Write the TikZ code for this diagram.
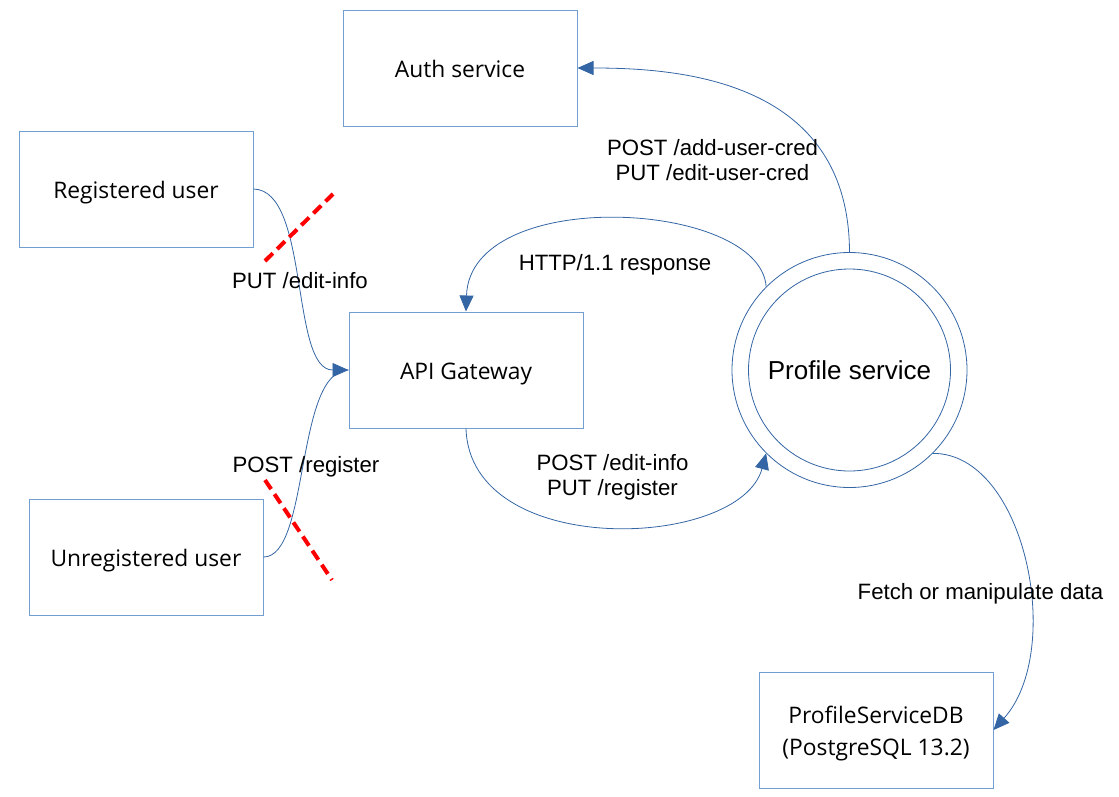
\documentclass[tikz,border=0pt]{standalone}
\usepackage{fontspec}
\setmainfont{Liberation Sans}
\newfontfamily\boxfont{Open Sans}
\usetikzlibrary{arrows.meta}
\definecolor{lineblue}{HTML}{3465A4}
\definecolor{boxblue}{HTML}{729FCF}
\newcommand{\lowtext}[1]{\raisebox{-9pt}[0pt][0pt]{#1}}
\begin{document}
\begin{tikzpicture}[x=1pt,y=-1pt,
  box/.style={draw=boxblue,line width=1pt,minimum width=234pt,minimum height=116pt,inner sep=0pt,align=center,
    font=\boxfont\fontsize{22.8}{32}\selectfont},
  conn/.style={draw=lineblue,line width=0.8pt},
  arr/.style={conn,-{Triangle[length=16pt,width=14pt,fill=lineblue]}},
  lbl/.style={font=\fontsize{22.2}{25}\selectfont,align=center,inner sep=0pt},
  cross/.style={draw=red,line width=4pt,dash pattern=on 11pt off 6pt}]
\useasboundingbox (0,0) rectangle (1119,796);
\node[box] (auth) at (460,68) {\lowtext{Auth service}};
\node[box] (reg) at (136,189) {\lowtext{Registered user}};
\node[box] (api) at (466,370) {\lowtext{API Gateway}};
\node[box] (unreg) at (146,557) {\lowtext{Unregistered user}};
\node[box] (db) at (876,730) {\lowtext{ProfileServiceDB}\\\lowtext{(PostgreSQL 13.2)}};
\node[draw=lineblue,line width=0.8pt,circle,minimum size=235pt,inner sep=0pt,font=\fontsize{26}{30}\selectfont] (prof) at (849.5,370) {Profile service};
\draw[draw=lineblue,line width=0.8pt] (prof.center) circle (101);
% connectors
\draw[arr] (prof.north) .. controls (849,80) and (680,68) .. (auth.east);
\draw[arr] (prof.135) .. controls (760,200) and (470,185) .. (api.north);
\draw[arr] (api.south) .. controls (470,560) and (740,550) .. (prof.225);
\draw[arr] (prof.-45) .. controls (1025,453) and (1065,650) .. (db.east);
\draw[arr] (reg.east) .. controls (310,190) and (290,370) .. (api.west);
\draw[conn] (unreg.east) .. controls (310,557) and (295,370) .. (api.west);
% crosses
\coordinate (c1a) at (265,261);
\coordinate (c1b) at (333,194);
\coordinate (c2a) at (265,480);
\coordinate (c2b) at (332,580);
\draw[cross] (c1a) -- (c1b);
\draw[cross] (c2a) -- (c2b);
% labels
\node[lbl] (l1) at (300,281) {PUT /edit-info};
\node[lbl] (l2) at (306,467) {POST /register};
\node[lbl] (l3) at (712.5,160.5) {POST /add-user-cred\\PUT /edit-user-cred};
\node[lbl] (l4) at (615,265) {HTTP/1.1 response};
\node[lbl] (l5) at (612.5,477.5) {POST /edit-info\\PUT /register};
\node[lbl] (l6) at (980.5,594) {Fetch or manipulate data};
\end{tikzpicture}
\end{document}
